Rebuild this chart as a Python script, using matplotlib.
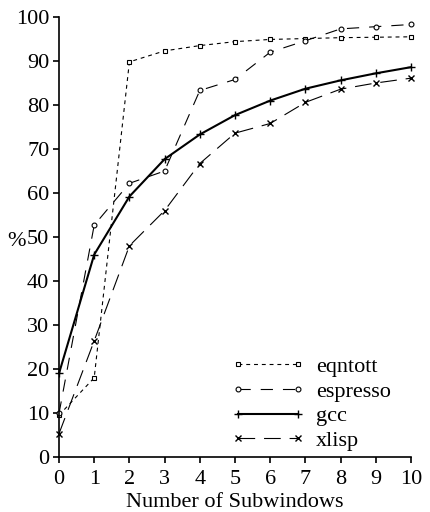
import matplotlib.pyplot as plt

plt.rcParams['font.family'] = ['Liberation Serif', 'DejaVu Serif']
plt.rcParams['font.size'] = 16

x = list(range(11))
eqntott = [9.5, 18.0, 89.8, 92.3, 93.5, 94.4, 94.9, 95.1, 95.3, 95.4, 95.5]
espresso = [9.9, 52.7, 62.2, 65.0, 83.3, 85.8, 92.0, 94.6, 97.3, 97.8, 98.3]
gcc = [19.0, 46.0, 59.2, 67.7, 73.3, 77.7, 81.0, 83.7, 85.6, 87.2, 88.6]
xlisp = [5.3, 26.4, 48.0, 56.0, 66.7, 73.6, 75.8, 80.6, 83.6, 85.0, 86.1]

fig = plt.figure(figsize=(4.31, 5.12), dpi=100)
ax = fig.add_axes([59 / 431, 55 / 512, 352 / 431, 440 / 512])

ax.plot(x, eqntott, color='black', lw=0.8, dashes=(3.5, 3.5), marker='s', ms=3.5,
        mfc='white', mew=0.8, label='eqntott', clip_on=False)
ax.plot(x, espresso, color='black', lw=0.8, dashes=(11, 9), marker='o', ms=3.5,
        mfc='white', mew=0.8, label='espresso', clip_on=False)
ax.plot(x, gcc, color='black', lw=1.5, marker='+', ms=6, mew=1.0,
        label='gcc', clip_on=False)
ax.plot(x, xlisp, color='black', lw=0.8, dashes=(15, 8), marker='x', ms=4,
        mew=1.0, label='xlisp', clip_on=False)

ax.set_xlim(0, 10)
ax.set_ylim(0, 100)
ax.set_xticks(range(0, 11))
ax.set_yticks(range(0, 101, 10))
ax.spines['top'].set_visible(False)
ax.spines['right'].set_visible(False)
ax.spines['left'].set_linewidth(1.2)
ax.spines['bottom'].set_linewidth(1.2)
ax.tick_params(direction='out', length=4, width=1.2, pad=3)
ax.tick_params(axis='x', pad=5)

ax.set_xlabel('Number of Subwindows', labelpad=3)
ax.set_ylabel('%', rotation=0, ha='right', va='center')
ax.yaxis.set_label_coords(-0.094, 0.49)

ax.legend(loc='lower left', frameon=False, numpoints=2, handlelength=3.33,
          labelspacing=0.18, handletextpad=0.5, borderpad=0, borderaxespad=0,
          bbox_to_anchor=(0.489, 0.014))

fig.savefig('out.png', dpi=100)
